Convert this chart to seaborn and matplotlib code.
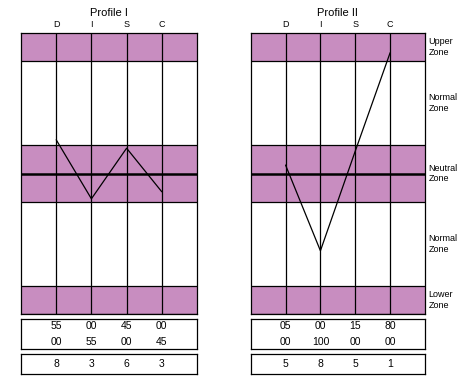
import numpy as np
import pandas as pd
import matplotlib
matplotlib.use("Agg")
import matplotlib.pyplot as plt
import seaborn as sns

sns.set_theme(style="white")
plt.rcParams['font.family'] = ['Liberation Sans', 'DejaVu Sans']
plt.rcParams['text.color'] = 'black'
plt.rcParams['xtick.color'] = 'black'
plt.rcParams['axes.titlecolor'] = 'black'

# data
categories = ["D", "I", "S", "C"]
profile1_values = [6.2, 4.1, 5.9, 4.35]
profile2_values = [5.3, 2.25, 5.8, 9.3]
profile1_most = ["55", "00", "45", "00"]
profile1_least = ["00", "55", "00", "45"]
profile1_pattern = ["8", "3", "6", "3"]
profile2_most = ["05", "00", "15", "80"]
profile2_least = ["00", "100", "00", "00"]
profile2_pattern = ["5", "8", "5", "1"]
zone_names = ["Upper\nZone", "Normal\nZone", "Neutral\nZone", "Normal\nZone", "Lower\nZone"]
zone_bottoms = [9, 6, 4, 1, 0]
zone_tops = [10, 9, 6, 4, 1]
shaded_zones = [True, False, True, False, True]

PINK = "#C88DC0"
LW = 0.9
W, H = 465, 384

fig = plt.figure(figsize=(W / 100, H / 100), dpi=100)


def rect(left, top, right, bottom):
    return [left / W, 1 - bottom / H, (right - left) / W, (bottom - top) / H]


def box_style(ax):
    ax.set_xticks([])
    ax.set_yticks([])
    for s in ax.spines.values():
        s.set_color("black")
        s.set_linewidth(LW)


def draw_profile(left, right, title, values, most, least, pattern, zone_labels):
    ax = fig.add_axes(rect(left, 33, right, 314))
    for lo, hi, shade in zip(zone_bottoms, zone_tops, shaded_zones):
        if shade:
            ax.axhspan(lo, hi, color=PINK, lw=0, zorder=0)
        ax.axhline(lo, color="black", lw=LW, zorder=2)
    ax.axhline(5, color="black", lw=1.8, zorder=2)
    for x in range(1, 5):
        ax.axvline(x, color="black", lw=LW, zorder=2)
    df = pd.DataFrame({"x": np.arange(1, len(categories) + 1), "y": values})
    sns.lineplot(data=df, x="x", y="y", ax=ax, color="black", lw=LW, zorder=3)
    ax.set_xlim(0, 5)
    ax.set_ylim(0, 10)
    box_style(ax)
    ax.set_xticks(range(1, 5))
    ax.set_xticklabels(categories, fontsize=6.5)
    ax.xaxis.tick_top()
    ax.tick_params(axis="x", length=0, pad=3)
    ax.set_xlabel("")
    ax.set_ylabel("")
    ax.set_title(title, fontsize=8, pad=12)
    if zone_labels:
        for name, lo, hi in zip(zone_names, zone_bottoms, zone_tops):
            ax.text(5.1, (lo + hi) / 2, name, fontsize=6.5, va="center", ha="left",
                    linespacing=1.25)

    ax2 = fig.add_axes(rect(left, 318.7, right, 349.3))
    ax2.set_xlim(0, 5)
    ax2.set_ylim(0, 2)
    for i in range(4):
        ax2.text(i + 1, 1.5, most[i], ha="center", va="center", fontsize=7.5)
        ax2.text(i + 1, 0.5, least[i], ha="center", va="center", fontsize=7.5)
    box_style(ax2)

    ax3 = fig.add_axes(rect(left, 353.7, right, 374.3))
    ax3.set_xlim(0, 5)
    ax3.set_ylim(0, 1)
    for i in range(4):
        ax3.text(i + 1, 0.5, pattern[i], ha="center", va="center", fontsize=7.5)
    box_style(ax3)


draw_profile(21, 197, "Profile I", profile1_values, profile1_most, profile1_least,
             profile1_pattern, False)
draw_profile(250.7, 425, "Profile II", profile2_values, profile2_most, profile2_least,
             profile2_pattern, True)

fig.savefig("out.png", dpi=100)
